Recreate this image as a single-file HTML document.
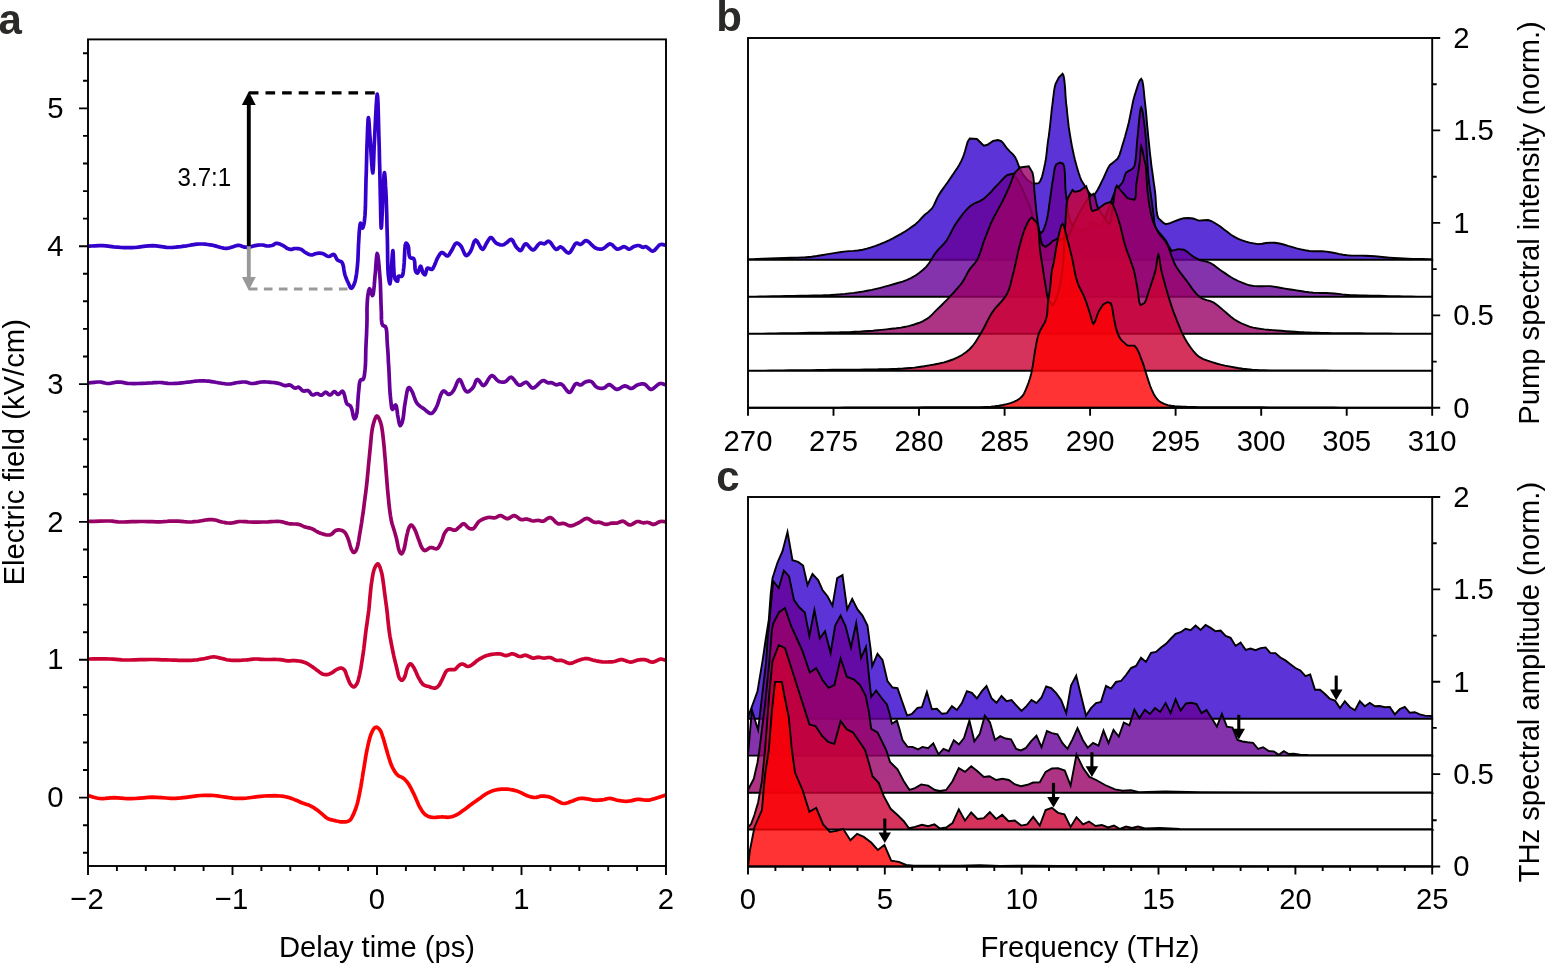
<!DOCTYPE html>
<html lang="en"><head><meta charset="utf-8"><title>Figure</title>
<style>html,body{margin:0;padding:0;background:#fff}svg{display:block}text{font-family:'Liberation Sans', Arial, Helvetica, sans-serif;fill:#000}</style></head><body>
<svg width="1545" height="964" viewBox="0 0 1545 964">
<rect width="1545" height="964" fill="#fff"/>
<g id="panel-a">
<polyline points="88.1,246.2 89.1,246.2 91.7,246 95.2,245.8 99,245.6 102.5,245.6 106.1,245.8 110,246.3 113.8,246.8 117.6,247.2 121.2,247.5 124.1,247.6 126.8,247.7 129.5,247.7 132.2,247.6 135,247.5 138.4,247.2 141.9,246.7 145.4,246.2 149,245.8 152.5,245.6 156,245.8 159.6,246.3 163.2,246.8 166.6,247.3 170,247.5 172.8,247.4 175.6,247.2 178.2,246.9 181,246.6 183.8,246.2 186.9,245.8 190.3,245.2 193.6,244.7 196.9,244.2 200,244 202.6,244 205.1,244.2 207.6,244.5 210,244.8 212.5,245.2 215.3,245.9 218.1,246.7 220.9,247.5 223.6,248.1 226,248.4 227.5,248.3 228.8,248 230,247.7 231.2,247.3 232.5,246.9 233.8,246.5 235,246.1 236.3,245.7 237.5,245.4 238.8,245.3 239.8,245.5 240.8,245.8 241.8,246.2 242.8,246.6 243.8,246.9 244.7,247.1 245.7,247.2 246.7,247.3 247.7,247.3 248.8,247.3 250,247 251.2,246.7 252.4,246.3 253.7,245.9 255,245.6 256.5,245.4 258,245.2 259.6,245 261.1,245 262.5,245 263.6,245.1 264.6,245.4 265.5,245.7 266.5,245.9 267.5,246 268.5,246 269.5,245.9 270.6,245.7 271.6,245.5 272.5,245.2 273.3,244.9 274,244.4 274.7,243.9 275.4,243.5 276.2,243.3 277.4,243.4 278.7,243.7 280,244.1 281.3,244.7 282.5,245.2 283.6,245.9 284.6,246.6 285.6,247.3 286.5,248 287.5,248.5 288.3,248.8 289,249.1 289.8,249.2 290.5,249.4 291.2,249.4 292,249.3 292.7,249.1 293.4,248.8 294.2,248.6 295,248.5 296.2,248.5 297.5,248.6 298.8,248.7 300.1,249 301.2,249.4 302.1,249.9 302.8,250.4 303.5,251.1 304.2,251.7 305,252.2 306.1,252.9 307.4,253.6 308.7,254.3 310,254.8 311.2,255 312.3,254.9 313.2,254.6 314.2,254.2 315.2,253.8 316.2,253.5 317.5,253.3 318.7,253.2 320,253.2 321.3,253.3 322.5,253.5 323.8,254 325.1,254.8 326.3,255.6 327.5,256.2 328.8,256.5 329.8,256.3 330.9,255.7 331.9,255 332.9,254.5 333.8,254.4 334.6,255 335.3,256.2 336,257.6 336.7,259 337.5,260 338.3,260.5 339.3,260.9 340.2,261.2 341.1,261.6 341.9,262.2 342.8,264.1 343.5,266.7 343.9,269.6 344.4,272.5 345,275 345.6,276.7 346.2,278.2 346.8,279.7 347.4,281.1 348.1,282.5 348.7,283.9 349.3,285.4 350,286.8 350.6,287.9 351.2,288.3 351.9,288 352.5,287.3 353.2,286.2 353.8,284.9 354.4,283.5 355.3,280.7 356,277.2 356.6,273.2 357.1,269.1 357.5,265 357.9,260.2 358.1,255 358.3,249.8 358.5,244.7 358.8,240 359,235.9 359.3,231.4 359.7,227.3 360.1,224.3 360.6,223.1 360.9,223.6 361.3,224.8 361.7,226.3 362.1,227.6 362.5,228.1 362.9,227.7 363.3,226.6 363.7,225.1 364.1,223.2 364.4,221.2 365,215.2 365.4,207.2 365.6,198.1 365.8,188.8 366,180 366.3,171.8 366.5,163.4 366.7,155.1 366.9,147.3 367.2,140 367.4,134.4 367.6,128.4 367.9,123 368.1,119 368.4,117.5 368.7,119 369.1,123.1 369.4,128.5 369.8,134.5 370.2,140 370.7,147.3 371.2,155.9 371.8,164.3 372.3,170.5 372.8,173 373.1,170.7 373.5,164.8 373.8,156.8 374.1,148 374.5,140 375,129.8 375.6,117.7 376.2,106.1 376.8,97.4 377.2,94 377.7,97.3 378.1,105.7 378.4,117 378.7,129.2 379,140 379.3,150 379.5,160.2 379.8,170.4 380,180.4 380.2,190 380.4,199.2 380.6,209.3 380.8,218.6 381,225.4 381.2,228.1 381.6,225.6 381.9,219.3 382.3,211 382.6,202.3 383,195 383.3,189.5 383.6,183.5 383.8,178.1 384.1,174.1 384.4,172.5 384.7,173.6 385,176.6 385.3,180.7 385.5,185.4 385.8,190 386.2,197.9 386.5,207.1 386.8,217 387,226.9 387.3,236.2 387.5,244.7 387.6,253.3 387.7,261.7 387.9,269.1 388.3,275 388.6,277.4 388.9,279.8 389.3,281.8 389.7,283.2 390,283.8 390.6,280.3 391.2,272.1 391.8,262.3 392.4,254 392.9,250.6 393.2,253.1 393.4,259.3 393.7,267 394.1,274.2 395,278.8 395.5,279.6 396,280.3 396.6,280.9 397.1,281.2 397.5,281.2 397.8,280.7 397.9,279.6 398,278.3 398.2,277 398.6,276.2 399.1,276.1 399.8,276.2 400.6,276.4 401.3,276.4 401.9,276.2 402.6,275.3 403,273.8 403.3,271.8 403.5,269.7 403.8,267.5 404.2,262.7 404.5,256.4 404.8,250.2 405.2,245.2 406,243.1 406.4,243.2 406.8,243.5 407.3,244.1 407.7,244.8 408.1,245.6 408.6,247.6 408.8,250.3 408.9,253.2 409.3,255.8 410,257.5 410.7,257.9 411.5,258.1 412.3,258.1 413.1,258.3 413.8,258.8 414.5,260.6 414.8,263.4 414.9,266.5 415.1,269.3 415.6,271.2 415.9,271.8 416.3,272.4 416.7,272.8 417.1,273.1 417.5,273.1 418.1,272.3 418.8,270.6 419.4,268.6 420,266.9 420.6,266.2 421.1,266.8 421.6,268.3 422.1,270.1 422.5,271.8 423.1,273.1 423.5,273.6 423.9,274.1 424.2,274.5 424.6,274.7 425,274.8 425.5,274 425.9,272.5 426.3,270.7 426.8,269 427.5,268.1 428.3,268.1 429.2,268.5 430.2,269 431.1,269.4 431.9,269.4 432.7,268.8 433.3,267.8 433.9,266.5 434.5,265.2 435,264 435.5,262.8 436,261.6 436.4,260.4 436.9,259.3 437.5,258.1 438.2,256.8 439.1,255.4 439.9,254 440.9,253 441.9,252.5 443,252.8 444.1,253.7 445.3,254.8 446.5,255.7 447.5,256 448.3,255.6 449.1,254.7 449.8,253.6 450.5,252.4 451.2,251.2 452.2,249.6 453.2,247.5 454.2,245.5 455.2,243.9 456.2,243.1 457.1,243.1 458,243.4 458.9,244 459.8,244.8 460.6,245.6 461.8,247.4 462.9,249.9 464,252.6 465.1,254.7 466.2,255.6 467.1,255.4 468,254.7 468.9,253.7 469.8,252.5 470.6,251.2 471.7,249 472.6,246.2 473.5,243.3 474.5,241 475.6,240 476.9,240.9 478.3,243.2 479.8,246 481.2,248.4 482.5,249.4 483.3,249 484.1,247.9 484.8,246.6 485.5,245.1 486.2,243.8 487.1,242.3 488,240.7 489,239.2 489.9,238 490.9,237.5 491.9,237.9 492.9,239.1 494,240.6 495.1,242 496.2,243.1 497.4,243.8 498.7,244.3 500,244.8 501.3,245 502.5,245 503.4,244.8 504.3,244.3 505.2,243.7 506,243.1 506.9,242.5 507.8,241.8 508.7,240.9 509.5,240.1 510.4,239.5 511.2,239.4 512.3,240.1 513.3,241.6 514.2,243.5 515.2,245.4 516.2,246.9 517.1,247.9 518,248.9 518.9,249.8 519.7,250.4 520.6,250.6 521.6,249.8 522.5,248.2 523.5,246.2 524.5,244.5 525.6,243.8 527,244.3 528.5,245.9 530,247.8 531.6,249.4 533.1,250 534.5,249.3 535.9,247.7 537.3,245.8 538.7,244.1 540,243.1 540.9,243 541.8,243.2 542.7,243.5 543.5,243.7 544.4,243.8 545.3,243.4 546.1,242.7 547,241.9 547.8,241.4 548.8,241.2 550.2,242.2 551.7,244.2 553.3,246.5 554.8,248.5 556.2,249.4 557.1,249.2 558,248.6 558.8,247.8 559.7,247.1 560.6,246.9 562.1,247.6 563.8,249.2 565.5,251.1 567.2,252.6 568.8,253.1 570.4,252 571.9,249.6 573.4,246.9 574.8,244.4 576.2,243.1 577.1,243.1 578,243.4 578.8,243.9 579.7,244.3 580.6,244.4 581.7,243.9 582.8,242.9 583.9,241.8 585,240.9 586.2,240.6 588,241.3 589.9,242.9 591.8,244.9 593.7,246.8 595.6,248.1 597,248.6 598.4,249 599.8,249.1 601.1,249.1 602.5,248.9 604.1,248.1 605.6,246.9 607.2,245.5 608.7,244.3 610.2,243.9 611.7,244.4 613.1,245.7 614.5,247.2 615.9,248.5 617.4,249.2 618.8,249 620.2,248.4 621.6,247.6 622.9,246.9 624.2,246.7 625.3,247 626.3,247.6 627.3,248.4 628.2,249 629.2,249.2 630.1,249 631,248.5 631.8,247.8 632.7,247.2 633.6,246.7 634.6,246.3 635.6,246 636.6,245.7 637.6,245.5 638.6,245.5 639.5,245.7 640.4,246.1 641.2,246.6 642.1,247.1 642.9,247.3 643.5,247.3 644.1,247.1 644.7,246.8 645.3,246.7 646,246.7 647.2,247.3 648.6,248.5 650,249.7 651.5,250.7 652.9,251.1 654.4,250.4 655.9,248.9 657.4,247.1 658.9,245.4 660.4,244.5 661.7,244.4 663.2,244.6 664.6,245 665.6,245.3 666,245.5" fill="none" stroke="#3300cc" stroke-width="3.7" stroke-linejoin="round" stroke-linecap="butt"/>
<polyline points="88,383 88.9,382.9 91.2,382.6 94.2,382.3 97.4,382 100,382 101.7,382.2 103.3,382.6 104.8,383 106.4,383.3 108,383.5 109.9,383.4 111.9,383 113.9,382.6 115.9,382.2 118,382 120.3,382.1 122.6,382.4 124.9,382.9 127.4,383.3 130,383.5 133.8,383.6 138,383.5 142.2,383.3 146.4,383.2 150,383 152.2,382.9 154.2,382.7 156.2,382.6 158.1,382.5 160,382.5 162,382.6 163.9,382.9 165.9,383.1 167.9,383.4 170,383.5 172.8,383.5 175.8,383.3 178.9,383.1 182,382.8 185,382.5 187.7,382.2 190.4,381.9 193.1,381.5 195.6,381.2 198,381 199.7,380.9 201.4,380.9 202.9,380.9 204.5,380.9 206,381 207.4,381.1 208.8,381.2 210.2,381.4 211.6,381.6 213,381.8 214.4,382 215.8,382.3 217.1,382.5 218.5,382.8 220,383 221.7,383.3 223.5,383.5 225.3,383.8 227.2,384 229,384 230.8,383.8 232.7,383.5 234.5,383.1 236.3,382.8 238,382.5 239.5,382.3 240.9,382.2 242.2,382 243.6,382 245,382 246.4,382.2 247.7,382.6 249.1,383 250.5,383.3 252,383.5 253.9,383.4 255.8,383.1 257.9,382.6 259.9,382.2 262,382 264.2,381.9 266.5,382 268.8,382.1 271,382.3 273,382.5 274.5,382.7 276,382.9 277.4,383.1 278.7,383.4 280,383.8 281.1,384.1 282.1,384.6 283,385 284,385.4 285,385.6 286,385.6 287,385.4 288,385.1 289,384.9 290,385 291,385.4 292,386.2 293,387 294,387.7 295,388.1 295.8,388.1 296.5,387.8 297.3,387.5 298,387.2 298.8,387.2 299.6,387.7 300.5,388.6 301.3,389.6 302.2,390.4 303.1,391 304.1,391.1 305.1,390.9 306.1,390.6 307.1,390.5 308.1,390.6 309,391.3 309.9,392.3 310.7,393.5 311.6,394.5 312.5,395 313.3,395 314.2,394.6 315.1,394.1 316,393.7 316.9,393.5 317.8,393.7 318.7,394.2 319.5,394.7 320.4,395.1 321.2,395.2 322.1,394.9 323,394.1 323.9,393.3 324.7,392.6 325.6,392.2 326.5,392.5 327.4,393.2 328.2,394.1 329.1,394.7 330,395 330.9,394.6 331.8,393.8 332.7,392.8 333.5,391.9 334.4,391.6 335.2,391.9 335.9,392.6 336.6,393.4 337.3,394.1 338.1,394.4 339,394.1 339.9,393.2 340.9,392.3 341.8,391.5 342.5,391.2 343,391.6 343.4,392.2 343.7,393.1 344.1,394 344.4,395 344.9,396.6 345.3,398.5 345.7,400.5 346.2,402.3 346.9,403.8 347.6,404.4 348.3,404.8 349.1,405.1 349.9,405.6 350.6,406.2 351.6,408.5 352.4,411.6 353,415 353.7,417.6 354.4,418.8 354.8,418.7 355.2,418.3 355.5,417.8 355.9,417.1 356.2,416.2 357,412.6 357.5,407.2 357.9,401 358.3,394.9 358.8,390 359,387.5 359.3,385.1 359.5,382.9 360,381.2 360.6,380 361,379.7 361.6,379.7 362.1,379.7 362.6,379.7 363.1,379.4 363.7,378.3 364.2,376.6 364.5,374.6 364.7,372.4 365,370 365.4,365.7 365.6,360.7 365.7,355.4 365.8,350 366,345 366.2,340.9 366.4,337 366.6,333.1 366.7,329.1 366.9,325 367,319.8 367,314.2 367,308.5 367.2,303.3 367.5,298.8 367.8,296.1 368.2,293.5 368.6,291.1 369.1,289.4 369.6,288.8 370.1,289.4 370.7,291.2 371.4,293.2 372,294.9 372.5,295.6 373.2,294.2 373.7,290.6 374.2,285.9 374.6,280.8 375,276.2 375.5,271.1 375.9,265.1 376.3,259.4 376.8,255.2 377.2,253.5 377.8,255.2 378.4,259.5 379,265.4 379.5,271.7 380,277.5 380.4,283.6 380.6,290.2 380.8,296.8 381,303.1 381.2,308.8 381.4,312.6 381.4,316.4 381.5,319.9 381.8,322.9 382.5,325 383,325.6 383.7,325.9 384.4,326.1 385.1,326.3 385.6,326.9 386.3,328.9 386.7,331.7 386.9,335 387,338.5 387.2,342 387.5,346.6 387.9,351.6 388.2,356.8 388.4,362.1 388.8,367.5 389.1,373.8 389.4,380.6 389.7,387.3 390.1,393.5 390.6,398.8 390.9,401.6 391.2,404.4 391.5,406.8 391.9,408.6 392.5,409.4 393,409 393.7,407.9 394.4,406.5 395,405.4 395.6,405 396.3,406 396.8,408.5 397.2,411.6 397.6,414.8 398.1,417.5 398.5,419.5 398.9,421.6 399.3,423.6 399.8,425 400.2,425.6 400.7,425.4 401.1,424.7 401.6,423.7 402.1,422.5 402.5,421.2 403.1,418.5 403.6,415.1 404,411.3 404.4,407.4 405,403.8 405.6,400 406.3,395.8 407,391.8 407.8,388.8 408.8,387.5 409.3,387.6 410,388.2 410.6,389.1 411.3,390.2 411.9,391.2 412.9,393.3 413.7,395.7 414.7,398.4 415.7,401 416.9,403.1 418.1,404.5 419.4,405.7 420.8,406.7 422.3,407.7 423.8,408.8 425.2,409.9 426.8,411.3 428.4,412.5 429.9,413.3 431.2,413.5 432.4,413 433.4,412 434.4,410.6 435.4,409.1 436.2,407.5 437.4,405 438.4,401.9 439.4,398.8 440.3,395.9 441.2,393.8 441.7,392.9 442.2,392.2 442.7,391.5 443.2,391.1 443.8,390.9 444.6,391.2 445.6,392.1 446.7,393.1 447.7,394 448.8,394.4 449.6,394.2 450.5,393.8 451.4,393.1 452.3,392.2 453.1,391.2 454.4,389 455.7,386 456.9,382.8 458.2,380.4 459.4,379.4 460.6,380.3 461.7,382.6 462.8,385.4 463.9,388.1 465,390 465.5,390.6 466,391.1 466.4,391.5 466.9,391.8 467.5,391.9 468.5,391.6 469.6,390.9 470.8,389.9 472,388.7 473,387.5 474,385.9 474.8,383.8 475.6,381.7 476.4,380.1 477.4,379.4 478.5,380 479.7,381.5 481,383.4 482.3,385 483.6,385.6 485.2,384.5 486.8,382.1 488.4,379.2 490.1,376.7 491.8,375.6 493.1,376 494.5,377.2 495.8,378.8 497.2,380.3 498.6,381.2 499.8,381.7 501.1,382 502.4,382.2 503.7,382.1 504.9,381.9 506.2,381.2 507.4,380 508.6,378.6 509.8,377.6 511.1,377.2 512.7,378.1 514.3,380 515.9,382.3 517.6,384.2 519.2,385.2 520.6,385.1 522,384.3 523.4,383.3 524.8,382.5 526.1,382.2 527.5,383 528.7,384.4 530,386.1 531.3,387.5 532.8,388.1 534.7,387.4 536.8,385.6 539,383.4 541.1,381.5 543,380.6 544.1,380.7 545.1,381.2 546.1,381.8 547.1,382.4 548,382.8 548.8,382.8 549.5,382.8 550.3,382.7 551,382.7 551.8,382.8 552.6,383.1 553.5,383.5 554.3,384 555.2,384.5 556.1,384.8 557.1,384.7 558,384.4 559,384.1 560.1,383.9 561.1,384 562.8,385.2 564.5,387.4 566.2,389.8 567.9,391.8 569.5,392.5 570.9,391.6 572.2,389.5 573.5,386.9 574.8,384.7 576.1,383.5 577,383.5 577.9,383.9 578.7,384.4 579.6,384.9 580.5,385 581.5,384.7 582.5,384 583.4,383.2 584.5,382.4 585.5,381.9 586.6,381.6 587.7,381.3 588.9,381.2 590,381.2 591.1,381.5 592.3,382.3 593.4,383.6 594.4,385 595.5,386.3 596.8,387.2 598,387.8 599.4,388.1 600.9,388.3 602.3,388.3 603.6,388.1 604.8,387.6 605.9,386.7 607,385.7 608.1,384.9 609.2,384.6 610.7,385.1 612.1,386.2 613.7,387.6 615.2,388.8 616.8,389.4 618.4,389.1 620,388.3 621.7,387.2 623.3,386.3 624.9,385.9 626.3,386.2 627.6,386.8 628.9,387.6 630.2,388.3 631.5,388.5 632.7,388.1 633.9,387.4 635,386.5 636.2,385.6 637.4,385 638.7,384.6 640.1,384.2 641.5,383.9 642.9,383.8 644.2,384 645.7,384.8 647,386.2 648.3,387.6 649.7,388.9 651.1,389.4 652.8,388.9 654.6,387.5 656.4,385.8 658.2,384.3 659.9,383.5 661.4,383.5 663,383.9 664.5,384.4 665.6,384.8 666,385" fill="none" stroke="#660099" stroke-width="3.7" stroke-linejoin="round" stroke-linecap="butt"/>
<polyline points="88,521.5 89.7,521.4 94,521.3 99.7,521.1 105.4,521 110,521 112.2,521.1 114.1,521.4 115.9,521.6 117.8,521.9 120,522 123.6,522 127.5,521.9 131.7,521.7 135.9,521.6 140,521.5 144,521.5 148.1,521.6 152.2,521.7 156.2,521.8 160,521.8 163.1,521.7 166.2,521.5 169.1,521.2 172,521.1 175,521 178,521.1 181.1,521.4 184.2,521.7 187.2,521.9 190,522 192.1,521.9 194.2,521.7 196.1,521.5 198.1,521.3 200,521 201.8,520.7 203.6,520.4 205.4,520 207.1,519.8 208.8,519.6 210.1,519.6 211.3,519.6 212.5,519.7 213.8,519.8 215,520 216.4,520.3 217.8,520.7 219.1,521.2 220.6,521.6 222,522 223.5,522.3 225.1,522.6 226.7,522.9 228.3,523 230,523.1 231.9,522.9 233.9,522.6 235.9,522.1 238,521.7 240,521.5 242,521.5 243.9,521.6 245.9,521.7 247.9,521.9 250,522 252.8,522.1 255.8,522.1 258.9,522.1 262,522 265,522 268.1,521.9 271.2,521.7 274.3,521.5 277.2,521.4 280,521.5 282,521.8 283.9,522.3 285.7,522.9 287.6,523.4 289.4,523.8 291.3,523.9 293.2,524 295.2,524 297,524.1 298.8,524.4 300.1,524.8 301.3,525.3 302.5,525.9 303.7,526.4 305,526.9 306.4,527.3 307.7,527.6 309.1,527.9 310.5,528.3 311.9,528.8 313.3,529.4 314.6,530.2 315.9,531 317.3,531.8 318.8,532.5 320.5,533.2 322.3,533.8 324.2,534.4 326,534.8 327.5,535 328.3,535 329.1,535 329.8,534.9 330.5,534.7 331.2,534.4 332.1,533.8 333,533 333.8,532 334.7,531.2 335.6,530.6 336.4,530.3 337.3,530.1 338.2,529.9 339.1,529.9 340,530 340.9,530.2 341.8,530.4 342.7,530.8 343.6,531.3 344.4,531.9 345.3,532.9 346.1,534.2 346.8,535.7 347.5,537.2 348.1,538.8 348.8,540.7 349.4,542.8 350,545 350.6,547 351.2,548.8 351.7,549.8 352.2,550.7 352.7,551.6 353.2,552.2 353.8,552.5 354.2,552.4 354.8,552 355.3,551.5 355.8,550.8 356.2,550 357.2,547.6 358,544.3 358.7,540.5 359.3,536.5 360,532.5 360.8,527.8 361.6,522.8 362.3,517.7 363.1,512.6 363.8,507.5 364.4,502.4 365.1,497.1 365.8,491.9 366.4,487 366.9,482.5 367.2,479.8 367.4,477.3 367.6,475 367.9,472.6 368.1,470 368.4,466.3 368.8,462.4 369.2,458.4 369.6,454.2 370,450 370.5,445 371,439.6 371.5,434.2 372.2,429.2 373.1,425 373.8,422.6 374.5,420.2 375.3,418.1 376.1,416.6 376.9,416 377.6,416.4 378.4,417.4 379.2,418.9 379.9,420.7 380.6,422.5 381.5,425.9 382.2,430 382.8,434.5 383.3,439.1 383.8,443.8 384.3,448.8 384.7,454.1 385.2,459.4 385.6,464.7 386,470 386.4,475 386.8,480 387.2,485 387.6,490 388.1,495 388.6,500.1 389.1,505.2 389.7,510.3 390.4,515.3 391.2,520 392.1,523.8 393.2,527.3 394.3,530.8 395.3,534.2 396.2,537.5 396.9,540.5 397.5,543.7 398.1,546.7 398.7,549.3 399.4,551.2 399.8,552 400.2,552.7 400.7,553.3 401.1,553.6 401.5,553.8 402,553.5 402.4,552.9 402.9,552.1 403.3,551.1 403.8,550 404.5,547.6 405.1,544.5 405.7,541.2 406.3,537.9 406.9,535 407.4,533.1 407.8,531.3 408.3,529.6 408.8,528.1 409.4,526.9 409.7,526.3 410.1,525.8 410.5,525.4 410.8,525.1 411.2,525 411.8,525.2 412.5,525.8 413.1,526.7 413.8,527.7 414.4,528.8 415.3,530.6 416.2,532.8 417.1,535.3 417.9,537.7 418.8,540 419.5,541.9 420.2,543.9 420.9,545.8 421.7,547.5 422.5,548.8 423,549.3 423.4,549.8 423.9,550.2 424.4,550.5 425,550.6 426,550.3 427,549.6 428.2,548.8 429.4,548 430.6,547.5 431.9,547.6 433.2,548 434.5,548.5 435.8,548.8 436.9,548.8 437.8,548.2 438.6,547.3 439.3,546.2 439.9,545 440.6,543.8 441.5,541.7 442.4,539.3 443.2,536.8 444,534.4 445,532.5 445.7,531.5 446.4,530.6 447.1,529.8 447.9,529.1 448.8,528.8 449.9,528.8 451.2,529.2 452.5,529.7 453.8,530.2 455,530.2 456,529.9 456.9,529.2 457.7,528.4 458.5,527.6 459.4,526.9 460.3,526.2 461.1,525.3 462,524.5 462.9,523.9 463.8,523.8 464.7,524.2 465.7,525.1 466.7,526.2 467.7,527.3 468.8,528.1 469.6,528.5 470.4,528.8 471.3,528.9 472.2,528.9 473,528.8 474.2,527.8 475.4,526.3 476.6,524.5 477.8,522.7 479.2,521.2 480.8,520.2 482.6,519.3 484.4,518.5 486.3,517.9 488,517.5 489.4,517.4 490.8,517.5 492.2,517.7 493.6,517.8 494.9,517.8 496.1,517.4 497.2,516.8 498.3,516.2 499.4,515.8 500.5,515.6 501.8,516 503.2,516.7 504.6,517.7 506,518.4 507.4,518.8 508.8,518.4 510.2,517.6 511.5,516.7 512.9,515.9 514.2,515.6 515.6,516 517,516.9 518.4,518 519.7,519 521.1,519.6 522.2,519.7 523.4,519.6 524.5,519.3 525.6,519.1 526.8,519.1 528,519.4 529.3,519.8 530.5,520.3 531.8,520.8 533,521 534,521 535,520.8 536,520.6 537,520.5 538,520.4 539,520.5 540,520.8 541,521.1 542,521.3 543,521.2 544.4,520.7 545.8,519.7 547.3,518.6 548.8,517.8 550.2,517.5 551.8,518.2 553.4,519.6 554.9,521.3 556.5,522.8 558,523.8 559.1,523.9 560.2,523.8 561.3,523.6 562.5,523.4 563.6,523.4 564.9,523.8 566.3,524.4 567.7,525.1 569.1,525.7 570.5,525.9 572.2,525.7 574,525.1 575.8,524.2 577.5,523.3 579.2,522.5 580.8,521.6 582.3,520.5 583.8,519.5 585.3,518.7 586.8,518.4 588.3,518.7 589.8,519.6 591.3,520.6 592.8,521.6 594.2,522.2 595.3,522.4 596.3,522.4 597.2,522.3 598.2,522.2 599.2,522.2 600.6,522.6 602,523.1 603.4,523.7 604.8,524.2 606.1,524.4 607.3,524.3 608.4,524 609.5,523.7 610.6,523.3 611.8,523.1 612.8,523 613.7,523.1 614.7,523.2 615.7,523.2 616.8,523.1 618,522.8 619.2,522.3 620.5,521.7 621.7,521.3 623,521.2 624.4,521.7 625.7,522.7 627.1,523.7 628.5,524.6 629.9,525 631.4,524.7 632.9,523.9 634.4,522.9 635.9,522 637.4,521.5 638.6,521.5 639.7,521.8 640.8,522.2 641.9,522.5 643,522.8 644,522.8 645,522.7 646,522.5 647,522.4 648,522.5 649.1,522.8 650.2,523.3 651.3,523.8 652.4,524.3 653.6,524.4 654.9,524.1 656.3,523.5 657.7,522.7 659.1,521.9 660.5,521.5 661.8,521.4 663.3,521.5 664.6,521.7 665.6,521.8 666,521.9" fill="none" stroke="#990066" stroke-width="3.7" stroke-linejoin="round" stroke-linecap="butt"/>
<polyline points="88,659 89.7,659 93.8,658.9 99.4,658.9 105.2,658.9 110,659 113.1,659.2 116,659.4 118.9,659.6 121.8,659.9 125,660 129.6,660 134.7,659.9 139.9,659.7 145.1,659.6 150,659.5 154.2,659.5 158.3,659.6 162.4,659.8 166.3,659.9 170,660 172.9,660.1 175.8,660.2 178.5,660.3 181.1,660.4 183.8,660.4 186.1,660.4 188.4,660.4 190.6,660.3 192.8,660.2 195,660 197.1,659.8 199.1,659.5 201.1,659.2 203.1,658.8 205,658.5 206.8,658.1 208.6,657.7 210.3,657.3 212,657 213.8,656.9 215.4,657 217.1,657.3 218.7,657.7 220.4,658.1 222,658.5 223.6,658.9 225.1,659.3 226.6,659.7 228.2,660 230,660.2 232.7,660.4 235.8,660.4 239,660.3 242.1,660.2 245,660 247.1,659.8 249.1,659.6 251.1,659.3 253,659.1 255,659 257,659 258.9,659.1 260.9,659.3 262.9,659.4 265,659.5 267.9,659.5 271,659.5 274.2,659.4 277.3,659.5 280,659.6 281.7,659.8 283.2,660.1 284.6,660.4 286,660.7 287.5,660.9 289,660.9 290.4,660.8 291.9,660.7 293.4,660.6 295,660.6 296.9,660.8 299,661 301.1,661.4 303.1,661.9 305,662.5 306.6,663.2 308.2,664.1 309.7,665 311.1,666 312.5,666.9 313.6,667.6 314.6,668.4 315.6,669.1 316.5,669.9 317.5,670.6 318.5,671.3 319.5,672.1 320.5,672.9 321.5,673.5 322.5,674 323.4,674.3 324.3,674.5 325.1,674.6 326,674.6 326.9,674.6 327.8,674.5 328.6,674.2 329.5,673.9 330.4,673.5 331.2,673.1 332.4,672.5 333.5,671.7 334.6,670.8 335.8,670 336.9,669.4 337.8,669 338.7,668.6 339.6,668.3 340.4,668.1 341.2,668.1 341.9,668.3 342.6,668.5 343.2,668.9 343.8,669.4 344.4,670 345.1,671.1 345.8,672.6 346.3,674.3 346.9,675.9 347.5,677.5 348.1,679 348.7,680.5 349.3,681.9 349.9,683.3 350.6,684.4 351.2,685.1 351.8,685.8 352.5,686.4 353.1,686.8 353.8,686.9 354.4,686.7 355.1,686.2 355.7,685.5 356.3,684.7 356.9,683.8 357.7,682 358.3,679.9 358.9,677.6 359.5,675.1 360,672.5 360.7,669.1 361.3,665.5 361.9,661.7 362.5,657.8 363.1,653.8 363.8,648.9 364.4,643.8 365,638.7 365.6,633.6 366.2,628.8 366.8,624.9 367.3,621.2 367.8,617.6 368.3,613.9 368.8,610 369.3,605.1 369.7,600 370.2,594.8 370.7,589.7 371.2,585 371.8,581.4 372.3,577.8 372.9,574.4 373.6,571.3 374.4,568.8 375,567.4 375.7,566 376.4,564.9 377.1,564.1 377.8,563.8 378.5,564.3 379.2,565.6 380,567.3 380.6,569.3 381.2,571.2 382.1,574.6 382.7,578.5 383.3,582.8 383.9,587.1 384.4,591.2 384.9,595 385.4,598.7 385.9,602.4 386.4,606.1 386.9,610 387.4,614.4 387.8,618.9 388.3,623.5 388.8,628.1 389.4,632.5 390,636.6 390.8,640.7 391.5,644.7 392.3,648.7 393.1,652.5 393.8,655.9 394.6,659.3 395.4,662.7 396.2,665.8 396.9,668.8 397.4,670.9 397.8,673 398.3,675 398.8,676.7 399.4,678.1 399.9,678.8 400.4,679.4 400.9,679.8 401.4,680.2 401.9,680.2 402.4,680.1 402.9,679.6 403.4,679 403.9,678.3 404.4,677.5 405.1,675.8 405.7,673.7 406.2,671.4 406.8,669.3 407.5,667.5 408,666.5 408.6,665.5 409.2,664.6 409.8,664 410.4,663.8 411,664 411.7,664.6 412.4,665.4 413.1,666.5 413.8,667.5 414.7,669.3 415.7,671.4 416.7,673.8 417.7,676.1 418.8,678.1 419.7,679.7 420.6,681.3 421.6,682.7 422.6,684 423.8,685 424.7,685.5 425.7,685.8 426.7,686.1 427.7,686.3 428.8,686.5 430,686.9 431.3,687.4 432.6,687.8 433.9,688.1 435,688.1 435.8,687.9 436.6,687.5 437.4,686.9 438.1,686.3 438.8,685.6 439.6,684.5 440.3,683.2 441,681.7 441.8,680.2 442.5,678.8 443.3,677 444.2,675.2 445,673.3 445.9,671.7 446.9,670.6 447.5,670.2 448.1,670 448.7,669.8 449.3,669.7 450,669.6 450.9,669.5 452,669.6 453,669.7 454.1,669.6 455,669.4 455.8,668.8 456.6,668 457.3,667.1 458,666.3 458.8,665.6 459.5,665.1 460.2,664.7 460.9,664.3 461.7,664.1 462.5,664 463.6,664.3 464.7,664.9 465.8,665.6 467,666.3 468.1,666.5 469.1,666.3 470.1,665.9 471.1,665.3 472,664.7 473,664 474,663.3 474.9,662.5 475.9,661.6 476.9,660.8 478,660 479.5,659 481.2,658.1 483,657.1 484.8,656.3 486.8,655.6 489.1,654.9 491.7,654.4 494.4,654 497,653.8 499.2,653.8 500.8,654 502.2,654.5 503.5,655 504.8,655.4 506.1,655.6 507.4,655.4 508.6,654.9 509.9,654.4 511.1,653.9 512.4,653.8 513.9,654.1 515.4,654.7 516.9,655.5 518.5,656.2 519.9,656.5 521.1,656.4 522.2,656.1 523.2,655.7 524.3,655.3 525.5,655.2 527,655.6 528.5,656.3 530.1,657 531.6,657.7 533,658.1 534,658.1 535,657.9 536,657.6 537,657.4 538,657.2 539.2,657.3 540.5,657.5 541.7,657.8 543,658 544.2,658.1 545.4,658 546.5,657.8 547.6,657.6 548.8,657.5 549.9,657.5 551.3,657.9 552.7,658.5 554,659.3 555.4,660 556.8,660.4 557.8,660.5 558.7,660.5 559.7,660.4 560.7,660.3 561.8,660.4 563.3,660.9 564.9,661.6 566.6,662.5 568.2,663.1 569.9,663.4 571.5,663.2 573.1,662.7 574.8,661.9 576.4,661.2 578,660.6 579.6,660.1 581.2,659.5 582.9,659 584.5,658.7 586.1,658.5 587.7,658.6 589.4,659 591,659.5 592.6,660 594.2,660.4 595.9,660.8 597.4,661.1 599,661.4 600.7,661.7 602.4,661.9 604.7,662 607.1,662 609.6,661.9 612,661.8 614.2,661.5 615.9,661.1 617.4,660.6 618.8,660.1 620.2,659.7 621.8,659.6 623.5,659.9 625.2,660.5 627,661.2 628.8,661.8 630.5,662.1 632,661.9 633.5,661.5 635,660.9 636.5,660.4 638,660 639.5,659.8 641,659.6 642.5,659.6 644,659.6 645.5,659.8 646.9,660.2 648.3,660.8 649.6,661.5 651,662 652.4,662.2 654,661.9 655.7,661.2 657.3,660.3 659,659.5 660.5,659.1 661.8,659.2 663.3,659.5 664.6,659.9 665.6,660.3 666,660.4" fill="none" stroke="#cc0033" stroke-width="3.7" stroke-linejoin="round" stroke-linecap="butt"/>
<polyline points="88.4,795.5 89.2,795.8 91.1,796.4 93.8,797.3 96.7,798 99.4,798.5 102.2,798.6 105.1,798.4 108.1,798.1 111.1,797.8 114.2,797.7 117.5,797.8 120.8,798.1 124.2,798.4 127.7,798.6 131.2,798.7 135.3,798.5 139.4,798.2 143.7,797.8 148,797.4 152.3,797.2 156.9,797.3 161.5,797.6 166.2,798 170.9,798.3 175.6,798.3 180.8,797.9 186.1,797.3 191.4,796.6 196.5,795.9 201,795.5 203.8,795.4 206.3,795.3 208.6,795.3 211.1,795.4 213.7,795.5 217.3,795.9 221.3,796.5 225.3,797.1 229.2,797.7 232.7,798.1 235,798.3 237,798.4 238.9,798.4 241,798.4 243.3,798.3 247.1,798 251.4,797.5 255.8,796.9 260.3,796.3 264.4,796 267.7,795.8 271,795.8 274.2,795.7 277.2,795.8 280,796 281.9,796.2 283.7,796.4 285.4,796.7 287.1,797.1 288.8,797.5 290.3,798 291.8,798.5 293.3,799.1 294.8,799.7 296.2,800.2 297.5,800.8 298.8,801.4 300,802 301.2,802.6 302.5,803.1 304,803.6 305.5,804.1 307,804.5 308.6,805 310,805.6 311.3,806.3 312.6,807 313.8,807.7 315,808.6 316.2,809.4 317.5,810.3 318.8,811.3 320.1,812.4 321.3,813.4 322.5,814.4 323.5,815.3 324.5,816.2 325.4,817 326.4,817.8 327.5,818.5 328.9,819.1 330.3,819.6 331.9,819.9 333.5,820.3 335,820.6 336.5,821 338,821.3 339.5,821.6 341,821.8 342.5,821.9 343.9,821.9 345.4,821.8 346.9,821.6 348.2,821.2 349.4,820.6 350.3,819.8 351.1,818.8 351.8,817.6 352.4,816.3 353.1,815 353.9,813.2 354.7,811.3 355.5,809.3 356.2,807.2 356.9,805 357.6,802.5 358.2,799.8 358.8,797.1 359.4,794.3 360,791.2 360.8,787.1 361.5,782.6 362.3,778 363,773.3 363.8,768.8 364.5,764.4 365.2,760 365.9,755.6 366.7,751.4 367.5,747.5 368.2,744.4 368.9,741.5 369.6,738.6 370.4,736 371.2,733.8 371.8,732.4 372.5,731 373.1,729.8 373.7,728.9 374.4,728.1 374.8,727.8 375.2,727.5 375.6,727.3 376.1,727.2 376.5,727.2 377.2,727.4 377.9,727.8 378.6,728.4 379.3,729.2 380,730 380.9,731.5 381.6,733.4 382.3,735.5 383,737.7 383.8,740 384.7,743.3 385.7,746.9 386.8,750.6 387.8,754.2 388.8,757.5 389.5,759.7 390.2,761.8 390.9,763.8 391.6,765.7 392.5,767.5 393.4,769.2 394.3,770.8 395.3,772.4 396.4,773.8 397.5,775 398.6,775.8 399.7,776.4 400.9,776.9 402,777.4 403.1,778.1 404.1,778.8 404.9,779.6 405.8,780.5 406.6,781.4 407.5,782.5 408.8,784.4 410,786.5 411.3,788.9 412.5,791.3 413.8,793.8 415,796.5 416.3,799.4 417.5,802.3 418.7,805.1 420,807.5 421,809.1 421.9,810.7 422.8,812.1 423.9,813.3 425,814.4 426.1,815.2 427.3,815.9 428.5,816.5 429.8,816.9 431.2,817.2 433.3,817.5 435.6,817.4 438.1,817.2 440.4,817 442.5,816.9 443.9,817 445.1,817.1 446.3,817.2 447.5,817.3 448.8,817.2 450.2,817 451.7,816.7 453.3,816.2 454.8,815.6 456.2,815 457.8,814.2 459.3,813.2 460.7,812.2 462.2,811.1 463.8,810 465.6,808.7 467.5,807.3 469.4,805.8 471.2,804.4 473,803.1 474.3,802.2 475.6,801.3 476.8,800.5 478,799.6 479.2,798.8 480.7,797.7 482.1,796.6 483.6,795.5 485.2,794.4 486.8,793.5 488.4,792.6 490.1,791.8 491.9,791.1 493.7,790.5 495.5,790 497.4,789.6 499.4,789.3 501.4,789.1 503.4,789.1 505.5,789.1 507.7,789.2 510,789.5 512.3,789.9 514.5,790.4 516.8,791 519.1,791.9 521.4,792.9 523.7,794.1 525.9,795.2 528,796 529.5,796.5 530.9,796.9 532.2,797.2 533.6,797.4 534.9,797.5 536.1,797.4 537.4,797.1 538.6,796.8 539.8,796.4 541.1,796.2 542.7,796.2 544.3,796.2 546,796.3 547.6,796.5 549.2,796.9 550.8,797.5 552.3,798.2 553.8,799 555.3,799.9 556.8,800.6 558.1,801.3 559.5,802 560.8,802.7 562.2,803.2 563.6,803.5 565.2,803.4 566.8,803 568.5,802.5 570.1,801.8 571.8,801.2 573.3,800.7 574.8,800 576.3,799.4 577.7,798.9 579.2,798.5 580.7,798.3 582.2,798.3 583.7,798.4 585.2,798.6 586.8,798.8 588.4,799 590,799.4 591.6,799.7 593.3,800.1 594.9,800.2 596.5,800.3 598.2,800.2 599.8,800.1 601.4,799.9 603,799.8 604.4,799.5 605.8,799.1 607.1,798.8 608.5,798.5 609.9,798.4 611.5,798.6 613,799 614.7,799.5 616.3,800 618,800.4 619.9,800.7 621.9,801 624,801.2 626,801.3 628,801.2 629.9,801 631.8,800.6 633.6,800.1 635.5,799.6 637.4,799.4 639.5,799.4 641.7,799.7 643.9,800 646.1,800.2 648,800.2 649.3,800.1 650.5,799.8 651.7,799.5 652.9,799.1 654.2,798.8 656.7,798 659.8,797 662.8,796.1 665.1,795.3 666,795" fill="none" stroke="#ff0000" stroke-width="3.7" stroke-linejoin="round" stroke-linecap="butt"/>
<line x1="248.8" y1="103" x2="248.8" y2="246.3" stroke="#000" stroke-width="3.9"/>
<polygon points="248.8,91.5 255.7,105 241.9,105" fill="#000"/>
<line x1="248.8" y1="246.3" x2="248.8" y2="278.5" stroke="#999" stroke-width="3.9"/>
<polygon points="248.8,290.4 255.7,277 241.9,277" fill="#999"/>
<line x1="248.9" y1="92.8" x2="376.4" y2="92.8" stroke="#000" stroke-width="3.2" stroke-dasharray="9.6 7"/>
<line x1="248.9" y1="289" x2="349" y2="289" stroke="#999" stroke-width="3.2" stroke-dasharray="8.6 6.4"/>
<text transform="translate(177.6,186.2) scale(0.965,1)" font-size="25" text-anchor="start">3.7:1</text>
<rect x="88.0" y="39.4" width="578.0" height="826.6" fill="none" stroke="#000" stroke-width="1.9"/>
<path d="M88,852.7H83M88,825.2H83M88,797.6H79M88,770H83M88,742.5H83M88,714.9H83M88,687.3H83M88,659.8H79M88,632.2H83M88,604.6H83M88,577H83M88,549.5H83M88,521.9H79M88,494.3H83M88,466.8H83M88,439.2H83M88,411.6H83M88,384.1H79M88,356.5H83M88,328.9H83M88,301.3H83M88,273.8H83M88,246.2H79M88,218.6H83M88,191.1H83M88,163.5H83M88,135.9H83M88,108.4H79M88,80.8H83M88,53.2H83M88,866V875M116.9,866V871M145.8,866V871M174.7,866V871M203.6,866V871M232.5,866V875M261.4,866V871M290.3,866V871M319.2,866V871M348.1,866V871M377,866V875M405.9,866V871M434.8,866V871M463.7,866V871M492.6,866V871M521.5,866V875M550.4,866V871M579.3,866V871M608.2,866V871M637.1,866V871M666,866V875" stroke="#000" stroke-width="1.9" fill="none"/>
<text transform="translate(63.4,807.2) scale(0.965,1)" font-size="30.3" text-anchor="end">0</text>
<text transform="translate(63.4,669.4) scale(0.965,1)" font-size="30.3" text-anchor="end">1</text>
<text transform="translate(63.4,531.5) scale(0.965,1)" font-size="30.3" text-anchor="end">2</text>
<text transform="translate(63.4,393.7) scale(0.965,1)" font-size="30.3" text-anchor="end">3</text>
<text transform="translate(63.4,255.8) scale(0.965,1)" font-size="30.3" text-anchor="end">4</text>
<text transform="translate(63.4,118) scale(0.965,1)" font-size="30.3" text-anchor="end">5</text>
<text transform="translate(87,908.8) scale(0.965,1)" font-size="30.3" text-anchor="middle">−2</text>
<text transform="translate(231.5,908.8) scale(0.965,1)" font-size="30.3" text-anchor="middle">−1</text>
<text transform="translate(377,908.8) scale(0.965,1)" font-size="30.3" text-anchor="middle">0</text>
<text transform="translate(521.5,908.8) scale(0.965,1)" font-size="30.3" text-anchor="middle">1</text>
<text transform="translate(666,908.8) scale(0.965,1)" font-size="30.3" text-anchor="middle">2</text>
<text x="279" y="957.3" font-size="30.3" textLength="196" lengthAdjust="spacingAndGlyphs">Delay time (ps)</text>
<text transform="translate(24,585.6) rotate(-90)" font-size="30.3" textLength="266.5" lengthAdjust="spacingAndGlyphs">Electric field (kV/cm)</text>
<text x="-1.5" y="34" font-size="42" font-weight="bold" style="fill:#2b2a29">a</text>
</g>
<g id="panel-b">
<polygon points="748,259.7 748,259.2 749.1,259.2 752.3,259.1 757.1,258.9 763.1,258.7 769.9,258.5 777.1,258.2 784.4,258 791.2,257.8 797.2,257.6 802,257.4 805.2,257.3 806.3,257.2 811.5,256.7 816.6,256 821.5,255.2 826.4,254.4 831,253.6 835.5,252.9 839.8,252.2 843.8,251.6 848.9,251.1 853.4,250.9 857.9,250.5 862.6,249.7 866.8,248.7 871.1,247.4 875.6,245.9 880.1,244.2 884.5,242.4 888.9,240.4 892.9,238.4 896.9,236.2 901,233.9 905,231.5 908.8,229 912.2,226.6 915.2,224.4 918.8,221.1 921.7,218 924.5,215 928.4,211.9 932,208.4 933.8,205.4 935.4,202 937,198.4 938.8,195 940.8,191.9 942.9,188.9 945.1,185.8 947.5,182.5 949.7,179.2 952.2,175.6 954.8,171.8 957.3,168 959.5,164.4 961.2,161.2 962.8,157.7 963.9,154.6 965,151.2 966.3,146.5 967.7,141.7 969.8,138.5 976.9,139 980.5,142.5 983.8,145.6 987.5,144.8 993.1,141 998.1,140 1001.2,141 1003.2,143.1 1005.3,146.1 1007.5,149 1010,151.6 1012.7,154.1 1015,156.9 1016.7,160.4 1018.1,164.1 1019.4,167.5 1022.5,173.8 1027.5,180 1033,183.8 1038.8,183.1 1040.4,180.7 1041.9,177.1 1043.1,172.6 1044.1,168 1045,163.8 1045.9,159 1046.5,154.2 1047,149.5 1047.5,145 1048.1,140.4 1048.8,136.1 1049.4,131.2 1049.9,127.2 1050.4,122.6 1050.9,117.8 1051.4,112.9 1051.9,108.2 1052.5,103.8 1053,99.4 1053.6,94.9 1054.1,90.7 1054.8,86.9 1055.6,83.8 1058.8,77.5 1062.5,73.8 1063.4,75.2 1064.1,78.4 1064.6,82.8 1065.1,88.1 1065.4,93.7 1065.8,99.1 1066.2,103.8 1066.8,108.4 1067.2,113 1067.7,117.5 1068.2,122.1 1068.7,126.7 1069.4,131.2 1070.2,136.1 1071,141 1071.9,145.9 1072.9,150.8 1073.9,155.5 1075,160 1076.2,164.4 1077.4,168.9 1078.7,173 1080,176.8 1081.2,180 1085,186.2 1087.4,190.3 1090,193.8 1093.5,196.2 1097.5,190 1099.5,186.2 1101.6,181.8 1103.8,177.5 1105.7,173.1 1107.7,168.8 1110,165 1113.8,161.9 1117.5,158.8 1119.5,154.8 1121,150.1 1122.5,145 1123.8,140.9 1125.1,136.5 1126.3,131.9 1127.6,127.2 1128.8,122.5 1129.7,118.2 1130.6,113.7 1131.5,109.1 1132.4,104.7 1133.3,100.3 1134.4,96.2 1136.1,90.7 1137.9,85 1139.7,80.5 1141.2,78.8 1142.3,80.5 1143.1,84.7 1143.8,90.5 1144.4,96.8 1145,102.5 1145.5,106.9 1146,111.5 1146.4,116.2 1146.8,120.9 1147.2,125.7 1147.7,130.4 1148.1,135 1148.6,139.9 1149.1,144.7 1149.6,149.5 1150.1,154.3 1150.7,159 1151.2,163.8 1151.8,168.4 1152.5,173 1153.1,177.6 1153.7,182.1 1154.4,186.7 1155,191.2 1155.5,196 1155.8,201.1 1156.1,206.2 1156.6,210.9 1157.3,215 1158.4,218.2 1163.8,223.1 1166,224.2 1170.1,223.2 1175,221.2 1179.4,219.5 1183.8,218.2 1188.6,218 1193.2,218.5 1198.8,220.6 1203.4,220.2 1208.2,220 1211.3,221 1214.3,222.7 1217.6,224.7 1220.7,226.8 1224,229.4 1227.5,232.1 1231,234.7 1234.5,236.9 1238.3,238.8 1242.2,240.3 1246,241.6 1249.5,242.6 1257.9,244.1 1261.9,243.8 1266.1,243 1270.1,242.6 1274.8,242.8 1279.5,243.5 1283.7,244.5 1288,245.9 1292.6,247.2 1296.7,248.3 1300.9,249.3 1305.2,250.3 1309.5,251 1313.7,251.3 1317.8,251.3 1322.1,251.3 1326.4,251.6 1330.4,252.2 1334.6,253 1338.8,253.9 1343,254.7 1347.1,255.3 1351.7,255.6 1356.3,255.6 1360.9,255.6 1365.8,255.7 1370.2,256 1375,256.3 1379.9,256.7 1384.8,257.2 1389.6,257.6 1394,257.9 1399,258.2 1403.6,258.5 1408.2,258.7 1412.8,258.9 1415.8,258.9 1422.4,259 1429,259.1 1432,259.1 1432.2,259.7" fill="rgba(51,0,204,0.8)" stroke="#000" stroke-width="1.9" stroke-linejoin="miter" stroke-miterlimit="6"/>
<polygon points="748,296.7 748,296.7 748.9,296.7 751.3,296.6 755.1,296.6 760,296.5 765.9,296.4 772.4,296.3 779.3,296.1 786.5,296 793.7,295.9 800.6,295.7 807.1,295.6 813,295.5 817.9,295.4 821.7,295.4 824.1,295.3 825,295.3 830.4,295 835.5,294.6 840.3,294.3 844.9,293.9 849.4,293.4 853.8,292.9 858.2,292.3 862.6,291.6 867.1,290.8 871.7,289.9 876.1,288.9 880.5,287.8 884.7,286.7 888.7,285.6 892.6,284.5 897.7,283 902.5,281.6 907.1,279.9 911.4,277.9 915.5,275.5 919.4,272.8 923.1,269.8 926.4,266.6 929,263.3 931.3,259.7 933.4,256.1 935.8,252.6 938.5,249.4 941.4,246.4 944.3,243.3 946.9,240 949,236.4 950.9,232.7 952.8,228.9 955,225 957.6,221.1 960.5,217.1 963.6,213 966.8,209.3 970,206.2 973.4,204 976.9,202.3 980.4,200.8 983.8,198.8 987,195.9 990.2,192.8 993.2,189.4 996.2,186.2 999.2,183.1 1002.1,179.9 1004.9,177 1007.5,175 1013.1,173.8 1017.5,180 1019.4,183.4 1021.5,187.7 1023.7,192.3 1025.7,196.8 1027.5,201 1029.4,205.8 1030.9,210.4 1032.5,215 1033.7,219 1034.9,223.2 1036.1,227.1 1037.5,230 1041.2,233 1043.1,230.9 1044.8,226.7 1046.2,222 1047.2,218.1 1048,213.8 1048.7,209.2 1049.3,204.5 1050,200 1050.6,195.7 1051.2,191.3 1051.8,186.9 1052.4,182.7 1053.1,178.8 1053.9,173.2 1054.8,168 1056.2,164.4 1060,162.5 1063.1,163.8 1064.1,166.4 1064.7,170.8 1065,176.1 1065.2,181.8 1065.3,187 1065.6,191.2 1066,194.9 1066.5,198 1066.9,201.2 1067.3,204.9 1067.6,208.8 1068.1,212.7 1068.8,216.2 1070.2,221 1072.5,225 1076,228.1 1080,230 1086,229 1088.2,226.5 1090.3,223.1 1092.5,221.2 1100,226 1102.2,223.9 1104.2,219.8 1106.1,214.8 1108,210 1109.6,206 1111.2,201.7 1112.7,197.4 1114.3,193.4 1116,190 1119.4,186.1 1122.5,182.5 1123.8,179.1 1124.8,175.5 1126.2,172.5 1132.5,168.8 1134.4,166.2 1135.1,163.3 1135.7,159 1136.2,153.9 1136.6,148.3 1137,142.7 1137.5,137.5 1138,132.7 1138.5,127.2 1139,121.5 1139.6,116.2 1140.1,111.7 1140.7,108.7 1141.2,107.5 1142,109 1142.8,112.8 1143.5,118.2 1144.3,124.2 1145,130 1145.4,133.9 1145.8,138.2 1146.2,142.9 1146.5,147.8 1146.8,152.8 1147.1,157.9 1147.4,162.9 1147.7,167.7 1148.1,172.2 1148.4,176.3 1148.8,180 1149.4,185 1150,189.3 1150.6,193.3 1151.2,197.5 1151.9,202.3 1152.5,207.1 1153.1,211.9 1153.8,216.2 1154.1,220.2 1154.5,223.9 1155.6,227.5 1157.7,231 1160.7,234.4 1163.7,237.8 1166,240.7 1168.8,246.3 1171.6,251 1178.2,249.1 1183.8,249.7 1186.9,251.6 1190.1,254.3 1193.2,256.6 1199.7,260 1203,260.9 1206.6,261.6 1210.1,262.8 1213.8,265.1 1217.5,267.9 1221.3,270.7 1224.5,272.9 1227.7,275.1 1231.1,277.2 1234.5,279.2 1238.2,281 1242.1,282.7 1245.9,284.2 1249.5,285.3 1254.3,286.1 1258.9,286.3 1262.6,286.3 1266.3,286.1 1270.1,286.1 1273.8,286.6 1277.5,287.3 1281.4,288 1285,288.6 1288.7,289.2 1292.5,289.8 1296.4,290.4 1300.6,291 1304.8,291.7 1309,292.3 1313.3,292.7 1317.5,292.9 1321.6,293 1325.9,293 1330.2,293.2 1334.2,293.5 1338.2,293.9 1342.3,294.4 1346.5,294.8 1350.8,295.1 1355.5,295.3 1360.3,295.4 1365.2,295.5 1370.2,295.6 1375.2,295.7 1379.8,295.8 1384.4,295.9 1389.2,296.1 1393.9,296.2 1398.7,296.3 1403.4,296.4 1405.5,296.4 1410.8,296.5 1417.7,296.6 1424.6,296.6 1429.9,296.7 1432,296.7 1432.2,296.7" fill="rgba(102,0,153,0.8)" stroke="#000" stroke-width="1.9" stroke-linejoin="miter" stroke-miterlimit="6"/>
<polygon points="748,333.8 748,333.8 748.7,333.8 750.7,333.8 753.8,333.7 758,333.6 763,333.6 768.7,333.5 775,333.4 781.7,333.3 788.7,333.2 795.9,333.1 803.1,332.9 810.1,332.8 816.8,332.7 823.1,332.6 828.8,332.5 833.8,332.5 838,332.4 841.1,332.3 843.1,332.3 843.8,332.3 849.4,332.1 854.5,331.8 859.4,331.6 864,331.3 868.5,331 872.8,330.7 877.1,330.3 881.4,329.9 886.4,329.4 891.4,328.8 896.2,328.3 900.9,327.6 905.3,326.8 909.5,325.8 914.2,324.5 918.6,323 922.6,321.3 926.4,319.2 929.5,316.9 932.3,314.4 934.9,311.7 937.7,308.9 941,305.7 944.3,302.4 947.6,299.1 950.8,295.7 953.8,292.5 956.7,289.2 959.5,286 962.1,282.6 964.2,279.3 966,275.9 967.7,272.5 969.6,269.4 972.1,266.3 974.7,263.5 977.1,260.1 978.7,256.6 980.2,252.7 981.6,248.4 982.9,244.1 984.4,240 985.9,236 987.5,231.9 989.1,227.9 990.7,223.9 992.5,220 994.4,216.2 996.5,212.4 998.5,208.6 1000.6,204.9 1002.5,201.2 1004.5,197.1 1006.5,192.9 1008.3,188.9 1010,185 1011.7,180.5 1013.2,176.1 1015,172.5 1020,167.5 1028.8,166.2 1032.5,172.5 1033.3,176.4 1033.8,181 1034,186.1 1034.4,191.2 1034.8,195.3 1035.2,199.5 1035.6,203.8 1036,208.1 1036.4,212.3 1036.9,216.2 1037.6,221.3 1038.4,226.2 1039.2,230.8 1040,235 1040.7,238.9 1041.4,242.4 1042.5,245 1045.6,246.9 1050,243.8 1052.5,241.2 1056.9,238.8 1061.2,240 1065,237.5 1068.8,235 1070.3,232.4 1071.9,228.9 1073.4,224.9 1075,221.2 1076.8,217.8 1078.6,214.3 1080.6,210.8 1082.5,207.5 1085,203.3 1087.6,199.3 1090,196.2 1093.5,193.8 1095,196.6 1096.1,202 1097.5,207 1099.2,210.2 1101,213.2 1103,216 1105.2,219.3 1107.5,222.5 1109.4,223.8 1110.7,221.5 1111.6,216.5 1112.2,210.5 1113,205 1113.8,199.3 1114.6,193.1 1115.5,188 1116.9,185.6 1122.5,192.5 1127.5,198.1 1134.4,200 1135.5,197.8 1135.9,194.1 1136,189.5 1136.2,185 1136.8,181.1 1137.5,176.9 1138.2,172.4 1138.9,168 1139.5,163.8 1140,160 1140.4,154.1 1140.7,148.7 1141.2,146.2 1142.2,149 1143.4,154.9 1144.4,160 1145.6,165 1146,168.2 1146.2,172.3 1146.5,176.9 1146.8,181.8 1147.1,186.7 1147.5,191.2 1148.1,196.2 1148.8,201.3 1149.5,206.2 1150.4,210.9 1151.2,215 1152.4,219.1 1153.6,222.8 1155,226.2 1156.5,229.3 1158.2,232.2 1160,235 1163.2,238.6 1166.2,242.5 1168.1,246.4 1169.7,250.8 1171.2,255 1172.5,258.3 1173.7,261.6 1175.3,265 1177.2,268.2 1179.6,271.6 1182.2,275.1 1184.9,278.6 1187.5,282 1190.4,286.1 1193.3,290.2 1196.4,293.9 1199.7,297 1203.1,298.8 1206.8,300.1 1210.5,301.2 1213.8,302.6 1217.1,304.9 1220.1,307.4 1223.2,310.1 1226.8,313.2 1230.5,316.5 1234.5,319.5 1238.1,321.6 1241.9,323.5 1245.8,325.2 1249.5,326.6 1253.2,327.6 1256.7,328.3 1260.7,328.9 1264.4,329.4 1268.6,329.8 1272.9,330.1 1277.2,330.5 1281.4,330.8 1286,331.2 1290.5,331.5 1295.1,331.8 1300.2,332.1 1304.2,332.3 1308.3,332.4 1312.6,332.6 1317.1,332.7 1321.8,332.9 1326.8,333 1332.1,333.1 1337.7,333.2 1338.5,333.2 1340.6,333.2 1344,333.2 1348.5,333.3 1353.9,333.3 1360,333.3 1366.7,333.4 1373.8,333.4 1381.1,333.5 1388.6,333.5 1395.9,333.6 1403,333.6 1409.7,333.7 1415.8,333.7 1421.2,333.7 1425.7,333.8 1429.1,333.8 1431.2,333.8 1432,333.8 1432.2,333.8" fill="rgba(153,0,102,0.8)" stroke="#000" stroke-width="1.9" stroke-linejoin="miter" stroke-miterlimit="6"/>
<polygon points="748,370.8 748,370.8 748.5,370.8 750.1,370.8 752.6,370.7 755.9,370.7 760,370.7 764.8,370.6 770.3,370.5 776.2,370.5 782.6,370.4 789.3,370.3 796.4,370.3 803.6,370.2 811,370.1 818.4,370 825.8,369.9 833,369.8 840.1,369.8 846.8,369.7 853.2,369.6 859.1,369.6 864.6,369.5 869.4,369.4 873.5,369.4 876.8,369.4 879.3,369.3 880.9,369.3 881.4,369.3 887.2,369.1 892.5,368.9 897.3,368.8 901.7,368.6 906,368.3 910.2,368 914.5,367.6 918.9,367 924,366.3 929.1,365.4 934.2,364.5 939.2,363.5 944.1,362.3 948.6,361 952.7,359.5 957.6,357.3 962,355 965.9,352.3 969.6,349.2 972.8,345.7 975.7,341.8 978.3,337.6 980.9,333.3 983.2,329.3 985.3,325.2 987.4,320.9 989.6,316.7 992.1,312.6 995,308.7 998.3,305 1001.6,301.4 1004.6,297.7 1007.1,293.8 1009,289.4 1010.4,284.9 1011.5,280.2 1012.8,275.1 1013.9,270.9 1014.9,266.3 1016,261.5 1017.1,256.6 1018.1,251.8 1019.2,247.3 1020.3,243.2 1021.6,238.4 1023,234 1024.3,230 1025.9,226.3 1027.7,222.5 1029.7,219.2 1031.7,217.6 1036.9,222.5 1038,225.8 1038.6,230.1 1039,235 1039.3,240.3 1039.6,245.4 1040,250 1040.6,254.2 1041.2,258.3 1041.9,262.3 1042.5,266.2 1043.1,270 1043.7,274.2 1044.3,278.4 1045,282.4 1045.6,286.2 1046.3,290.7 1047,295 1048.1,298.8 1052.5,305 1054.2,303.3 1055.9,299.4 1057.5,295 1058.5,291.6 1059.5,287.8 1060.4,283.6 1061.1,279.2 1061.9,274.7 1062.5,270 1063,265.9 1063.3,261.6 1063.7,257.1 1063.9,252.5 1064.1,247.8 1064.3,243.1 1064.5,238.6 1064.8,234.2 1065,230 1065.3,224.9 1065.6,219.6 1065.9,214.5 1066.2,209.8 1066.5,205.7 1066.9,202.5 1068.1,197.5 1072.5,190 1075,191.9 1080,190.6 1086.2,186.2 1088.8,193.8 1089.5,198.2 1090.2,203.7 1091.1,208.6 1092.5,211.2 1097.5,209.4 1101.2,206.6 1105,203.8 1110.6,201.9 1113,205 1115,210 1116.3,213.3 1117.6,217 1118.8,221 1120,225 1121,228.8 1122,232.9 1122.9,237 1123.9,241.1 1125,245 1126.5,249.6 1128.2,254.3 1129.9,258.7 1131.2,262.5 1133.8,270 1134.7,274.1 1135.7,278.9 1136.6,284 1137.5,288.8 1138.2,293.5 1138.7,298.6 1139.4,302.8 1140.6,305 1144.4,303.1 1146.1,300 1147.4,295.7 1148.8,291.2 1150.1,287.5 1151.4,283.5 1152.7,279.6 1153.8,276.2 1155.6,270 1156.3,265.9 1157,260.8 1157.7,256.4 1158.4,254.5 1159.1,256.2 1159.7,260.2 1160.4,265.3 1161.2,270 1162.3,274.6 1163.6,279.2 1164.9,284 1166.2,288.8 1167.4,292.8 1168.6,296.9 1169.9,301.1 1171.2,305.1 1172.5,309 1174,313.2 1175.6,317.2 1177.1,321.1 1178.8,325 1180.2,328.6 1181.7,332.1 1183.3,335.5 1185,338.8 1187.4,342.7 1189.9,346.5 1192.5,350 1194.7,352.7 1196.9,355 1199.7,357.2 1203.3,359.1 1207.6,360.7 1212.1,362.2 1216.5,363.5 1220.7,364.6 1224.9,365.6 1229.1,366.4 1233.4,367.2 1238,368 1242.8,368.7 1247.5,369.2 1252.2,369.7 1256.3,370 1260,370.2 1264.3,370.3 1270,370.4 1270.4,370.4 1271.7,370.4 1273.8,370.4 1276.6,370.4 1280,370.4 1284.1,370.4 1288.8,370.4 1293.9,370.5 1299.6,370.5 1305.6,370.5 1312,370.5 1318.7,370.5 1325.6,370.5 1332.7,370.6 1340,370.6 1347.3,370.6 1354.7,370.6 1362,370.6 1369.3,370.6 1376.4,370.7 1383.3,370.7 1390,370.7 1396.4,370.7 1402.4,370.7 1408.1,370.7 1413.2,370.8 1417.9,370.8 1422,370.8 1425.4,370.8 1428.2,370.8 1430.3,370.8 1431.6,370.8 1432,370.8 1432.2,370.8" fill="rgba(204,0,51,0.8)" stroke="#000" stroke-width="1.9" stroke-linejoin="miter" stroke-miterlimit="6"/>
<polygon points="748,407.8 748,407.8 748.3,407.8 749.2,407.8 750.7,407.8 752.8,407.8 755.3,407.8 758.4,407.8 761.9,407.8 765.9,407.8 770.3,407.7 775,407.7 780.2,407.7 785.6,407.7 791.4,407.7 797.5,407.7 803.8,407.7 810.4,407.6 817.1,407.6 824,407.6 831.1,407.6 838.3,407.6 845.6,407.5 852.9,407.5 860.3,407.5 867.7,407.5 875.1,407.5 882.4,407.5 889.7,407.4 896.9,407.4 904,407.4 910.9,407.4 917.6,407.4 924.2,407.3 930.5,407.3 936.6,407.3 942.4,407.3 947.8,407.3 953,407.3 957.7,407.3 962.1,407.2 966.1,407.2 969.6,407.2 972.7,407.2 975.2,407.2 977.3,407.2 978.8,407.2 979.7,407.2 980,407.2 986.2,406.9 990.9,406.7 994.8,406.3 998.8,405.7 1002.8,405 1006.7,404.2 1010.5,403.1 1013.8,401.9 1017,400.3 1019.8,398.5 1022.2,396.3 1024.1,393.5 1025.5,390.3 1026.9,386.9 1028.5,382.8 1029.9,378.5 1031.2,373.8 1032.1,369.6 1032.9,365.1 1033.6,360.3 1034.3,355.7 1035,351.2 1035.8,346.7 1036.6,342.2 1037.5,337.9 1038.8,333.8 1040.5,329.9 1042.6,326.3 1044.7,322.6 1046.2,318.8 1047.1,314.5 1047.5,309.9 1047.7,305.5 1048.1,301.2 1048.7,297 1049.4,293 1050,288.8 1050.5,284.1 1050.9,279.1 1051.4,274.2 1051.9,270 1053.8,262.5 1054.4,258.9 1055.1,254.7 1055.8,250.1 1056.6,245.5 1057.5,241.2 1058.6,235.9 1059.9,230.2 1061.2,225.6 1062.5,223.8 1063.7,225.5 1065,229.7 1066.3,235 1067.5,240 1068.6,244 1069.7,248.2 1070.7,252.4 1071.7,256.4 1072.5,260 1073.2,263.5 1073.8,266.7 1074.4,270 1075.2,274 1076.2,278.2 1077.5,282.5 1079.1,286.5 1081.1,290.5 1083.2,294.7 1085,298.8 1086.4,302.6 1087.7,306.5 1088.9,310.2 1090,313.8 1091.2,318 1092.3,322 1093.5,323.8 1095.1,321.3 1096.9,316 1098.8,311.2 1103.1,304.4 1107.5,302.2 1110.6,303.1 1112,306.6 1112.9,312.1 1113.8,317.5 1114.7,322.2 1115.7,326.9 1116.9,331.2 1118.8,336 1121.2,340 1127.5,345.6 1134.4,345.6 1137,348.8 1139.3,353.7 1141.2,358.8 1142.6,362.4 1143.9,366.1 1145,369.9 1146.2,373.8 1147.5,377.8 1148.8,381.9 1150.2,386 1151.7,389.7 1153.6,393.7 1155.8,397.4 1158.3,400.4 1161.1,402.4 1164.2,403.9 1167.7,405.1 1171.1,405.8 1174.8,406.2 1178.6,406.4 1182.7,406.6 1186.5,406.8 1190.2,406.9 1194.3,407 1199.1,407.1 1205.2,407.2 1205.5,407.2 1206.4,407.2 1208,407.2 1210,407.2 1212.7,407.2 1215.8,407.2 1219.4,407.2 1223.4,407.2 1227.8,407.3 1232.7,407.3 1237.9,407.3 1243.5,407.3 1249.3,407.3 1255.4,407.3 1261.8,407.3 1268.4,407.4 1275.2,407.4 1282.2,407.4 1289.3,407.4 1296.5,407.4 1303.8,407.5 1311.2,407.5 1318.6,407.5 1326,407.5 1333.4,407.5 1340.7,407.6 1347.9,407.6 1355,407.6 1362,407.6 1368.8,407.6 1375.4,407.7 1381.8,407.7 1387.9,407.7 1393.7,407.7 1399.3,407.7 1404.5,407.7 1409.4,407.7 1413.8,407.8 1417.8,407.8 1421.4,407.8 1424.5,407.8 1427.2,407.8 1429.2,407.8 1430.8,407.8 1431.7,407.8 1432,407.8 1432.2,407.8" fill="rgba(255,0,0,0.8)" stroke="#000" stroke-width="1.9" stroke-linejoin="miter" stroke-miterlimit="6"/>
<rect x="748.0" y="38.0" width="684.2" height="369.8" fill="none" stroke="#000" stroke-width="1.9"/>
<text transform="translate(748,451) scale(0.965,1)" font-size="30.3" text-anchor="middle">270</text>
<text transform="translate(833.5,451) scale(0.965,1)" font-size="30.3" text-anchor="middle">275</text>
<text transform="translate(919,451) scale(0.965,1)" font-size="30.3" text-anchor="middle">280</text>
<text transform="translate(1004.6,451) scale(0.965,1)" font-size="30.3" text-anchor="middle">285</text>
<text transform="translate(1090.1,451) scale(0.965,1)" font-size="30.3" text-anchor="middle">290</text>
<text transform="translate(1175.6,451) scale(0.965,1)" font-size="30.3" text-anchor="middle">295</text>
<text transform="translate(1261.2,451) scale(0.965,1)" font-size="30.3" text-anchor="middle">300</text>
<text transform="translate(1346.7,451) scale(0.965,1)" font-size="30.3" text-anchor="middle">305</text>
<text transform="translate(1432.2,451) scale(0.965,1)" font-size="30.3" text-anchor="middle">310</text>
<text transform="translate(1453.2,417.7) scale(0.965,1)" font-size="30.3" text-anchor="start">0</text>
<text transform="translate(1453.2,325.2) scale(0.965,1)" font-size="30.3" text-anchor="start">0.5</text>
<text transform="translate(1453.2,232.8) scale(0.965,1)" font-size="30.3" text-anchor="start">1</text>
<text transform="translate(1453.2,140.3) scale(0.965,1)" font-size="30.3" text-anchor="start">1.5</text>
<text transform="translate(1453.2,47.9) scale(0.965,1)" font-size="30.3" text-anchor="start">2</text>
<path d="M748,407.8V415.8M833.5,407.8V415.8M919,407.8V415.8M1004.6,407.8V415.8M1090.1,407.8V415.8M1175.6,407.8V415.8M1261.2,407.8V415.8M1346.7,407.8V415.8M1432.2,407.8V415.8M1432.2,407.8H1440.2M1432.2,361.6H1436.7M1432.2,315.4H1440.2M1432.2,269.1H1436.7M1432.2,222.9H1440.2M1432.2,176.7H1436.7M1432.2,130.4H1440.2M1432.2,84.2H1436.7M1432.2,38H1440.2" stroke="#000" stroke-width="1.9" fill="none"/>
<text transform="translate(1538.6,424.7) rotate(-90)" font-size="30.3" textLength="403.5" lengthAdjust="spacingAndGlyphs">Pump spectral intensity (norm.)</text>
<text x="716.2" y="30.7" font-size="42" font-weight="bold" style="fill:#2b2a29">b</text>
</g>
<g id="panel-c">
<polygon points="748,718.8 748,718 748.8,715 752.5,705 757.5,691.2 762.5,661.2 765.6,640 768.8,620 770.6,595 772.5,578.1 777.5,562.5 782.5,551.2 787.5,531.9 792.5,560.2 798.1,561.9 803.1,565.6 807.5,585 812.5,574 818.1,580 822.5,590 827.5,596.2 832.5,605.6 837.2,578.1 842.5,575 847.2,609.4 852.2,598.8 857.5,609.4 862.5,615.6 867.5,625.6 869.4,640 870.6,648.8 872.2,666.2 877.5,653.8 882.5,660 887.5,681.2 892.5,687.5 897.5,688.1 902.5,702.5 907.1,715.6 911.9,714 917.5,707.8 921.9,707.2 926.9,691.9 931.9,709.2 936.9,708.8 941.9,713.8 946.9,713.1 951.9,706.2 956.9,710 961.9,703.1 966.9,691.2 971.9,692.8 976.9,698.5 981.9,691.2 986.5,686 991.5,698.1 996.5,702.8 1001.5,696 1006.5,701.2 1011.5,700 1016.5,705.6 1021.5,711 1026.5,706.2 1031.5,700 1036.5,703.1 1041.5,697.5 1046.2,686.5 1051.2,688.1 1056.2,693.1 1061.2,700.2 1066.2,713.1 1071,685.6 1076.2,675.6 1081.2,696.2 1086,715.6 1091,708.1 1096,703.1 1101,701.9 1106,685.9 1111,688.5 1116,681.9 1121,681 1126,675 1131,668.1 1136,666 1141,657.8 1146,661.9 1151,652.8 1156,651.9 1161,647.5 1166,643.8 1171,638.5 1175.6,633.8 1180.6,632.2 1185.6,628.8 1190.6,630.2 1195.6,625.6 1200.6,630 1205.6,625 1210.6,627.9 1215.6,631.2 1220.6,630.6 1225.6,636 1230.6,637.8 1235.6,646 1240.6,642.5 1245.6,649.8 1250.6,648.5 1255.6,650.2 1260.6,648.1 1265.6,647.4 1270.4,653.1 1275.4,653.1 1280.4,657.5 1285.4,660.4 1290.4,664.2 1295.4,668 1300.4,670.4 1305.4,676.1 1310.2,674.4 1315,689.8 1320,689.8 1325,694 1330,699 1335,700.6 1340,708.1 1344.8,701.2 1350,707.2 1355,710.2 1359.8,701.2 1364.8,706.2 1369.8,702.8 1374.8,706.2 1379.8,706 1384.8,707.2 1389.8,706.9 1394.8,714.4 1399.8,709 1404.8,706.9 1409.8,712.8 1414.8,712.2 1419.8,714.4 1424.8,715.6 1432,716 1432.2,718.8" fill="rgba(51,0,204,0.8)" stroke="#000" stroke-width="1.9" stroke-linejoin="miter" stroke-miterlimit="6"/>
<polygon points="748,755.6 748,755 751.9,710 758.1,730 762.5,692.5 766.2,661.2 767.5,640 770,615 771.9,595 773.1,581.2 778.8,588.1 783.8,570.6 789,576.2 794,600 799.4,607.5 804.8,612.5 809.4,636 814.4,610 819.8,638.5 825,631.2 830.6,653.1 835.2,625.6 840.6,615.6 845.6,626.2 851,647.5 856.2,623.1 861,658.1 866,646.9 868.1,667.5 870,686.2 871.2,696.9 876.2,690.6 881.2,697.5 886.9,704.4 890,715 891.9,723.8 896.9,720.6 899.4,728.8 902.5,740 907.5,746.9 912.5,746.9 918.1,749.4 922.5,746.9 928.1,748.1 933.3,743.4 938.5,754.4 943.5,748.8 948.8,751.2 953.8,740.2 959,744.4 964,738.1 969.4,720.6 974.4,741.2 979.8,733.8 984.8,715.6 990,722.5 995,740 1000.2,736.2 1005.6,738.5 1011,739.4 1016.2,749 1021,750.4 1026,747.9 1031.2,741.2 1036.5,735.6 1041.5,747.2 1046.9,731 1051.9,733.1 1057.5,734.4 1062.5,743.1 1067.5,748.8 1072.5,739.4 1077.5,728.1 1082.8,740 1087.8,747.8 1093.1,742.8 1098.5,745.6 1103.5,730.6 1108.5,743.1 1113.5,730 1118.8,736.6 1123.8,722.5 1129.4,725.4 1134.4,709.6 1139.4,718.3 1144.8,709.8 1150,714 1155,708.1 1160.2,711.9 1165.6,703.1 1170.6,713.1 1175.6,699.4 1180.6,710.6 1186,703.5 1191.2,702.8 1196.5,704 1201.5,713.1 1206.5,710 1211.5,718.1 1216.9,726.6 1221.9,713.9 1226.9,726.7 1232.5,727.6 1237.5,740 1242.5,741.5 1247.5,742.2 1253.1,742.8 1258.1,749 1263.1,747.2 1268.8,751 1273.8,751.5 1278.8,754.8 1283.8,751.2 1288.8,754 1293.8,753.8 1300,754.8 1308,755 1432,755.2 1432.2,755.6" fill="rgba(102,0,153,0.8)" stroke="#000" stroke-width="1.9" stroke-linejoin="miter" stroke-miterlimit="6"/>
<polygon points="748,792.8 748,790 753.8,778.8 757.5,762.5 759.4,750 765,705 769.4,661.2 771.9,630 773.1,623.8 778.8,612.5 785,608.1 791.2,626.2 797.5,640 802.5,651.2 809.8,672.5 816.2,668.1 822.5,680 828.5,687.8 834.4,685 840.6,658.5 846.9,676.9 853.8,679.4 860,685 865.6,695.6 868.8,711.2 871.2,728.8 877.5,732.5 882.5,742.5 886.2,750 890,761.9 897.5,769.4 903.8,781.2 909.4,789.8 915,788.1 921.2,784.4 928.1,785.6 935,790 940,791 946.2,790 952.5,781.2 958.8,768.1 965,771.9 971.2,766.2 977.5,771.2 983.8,776.9 989.4,776.2 996.2,780 1002.5,778.8 1008.8,780 1015,784.4 1021,786.2 1027.5,784.8 1033.1,782.5 1039.8,782.2 1045.6,771.9 1051.9,768.5 1058.1,768.1 1064.8,770.6 1070.6,785.6 1076.5,754.4 1083.1,768.1 1089.4,776.9 1096.2,780 1105,785 1115,789.4 1122.5,790.6 1131.2,790.2 1138.8,792.2 1165,791.5 1200,792.3 1432,792.5 1432.2,792.8" fill="rgba(153,0,102,0.8)" stroke="#000" stroke-width="1.9" stroke-linejoin="miter" stroke-miterlimit="6"/>
<polygon points="748,829.5 748,827.5 751.2,823.8 754.4,815 758.1,802.5 761.9,781.2 765,750 769.4,692.5 772.5,661.2 778.8,645 785,648.1 791.2,667.5 800,695 809.4,724.4 815.6,726.2 821.9,735.6 828.1,741.9 834.4,743.8 840.6,721.2 846.9,729.4 853.1,732.5 860,742.5 865,750 868.8,762.5 872.5,776.2 878.8,783.1 883.8,796.2 890.6,808.8 897.5,815 903.8,821.2 908.8,828.1 915,826.9 921.9,824.8 928.1,826.2 934.4,824.4 940,828.5 946.2,827.5 952.5,823.1 958.8,809.4 965,820.6 971.2,812.5 977.5,819 983.8,818.1 989.8,812.2 996.2,819 1002.2,814.8 1008.5,821.2 1014.8,820.6 1021.2,825.6 1027.2,824.4 1033.2,816.9 1039.8,825.6 1045.6,810 1051.9,807.8 1058.1,812.8 1064.4,814.4 1070.6,826.9 1076.5,817.2 1083.1,824.4 1089,821.5 1095.6,826 1101.9,825 1108.1,827.5 1114,825.6 1120,829 1126,826.5 1132,828 1138,826.5 1145,828.5 1160,828 1180,829 1432,829.3 1432.2,829.5" fill="rgba(204,0,51,0.8)" stroke="#000" stroke-width="1.9" stroke-linejoin="miter" stroke-miterlimit="6"/>
<polygon points="748,866.5 748,866.5 750,850 754.4,827.5 761.9,810 765,775 768.8,750 771.9,711.2 775,681.9 781.9,681.9 785,698.8 788.8,717.5 791.9,750 795,772.5 802.5,790 809.4,811.9 816.2,807.8 823.1,824.4 830,831.9 837.5,830.6 843.1,828.8 850.4,840.2 857.1,833.8 863.8,836.9 871.2,842.5 877.8,850 884.4,845 891.2,860.6 898.8,861.9 906.2,865 913.8,865.6 960,865.8 980,865.2 1000,866 1033.8,865.6 1060,866 1432,866.2 1432.2,866.5" fill="rgba(255,0,0,0.8)" stroke="#000" stroke-width="1.9" stroke-linejoin="miter" stroke-miterlimit="6"/>
<rect x="748.0" y="497.0" width="684.2" height="369.5" fill="none" stroke="#000" stroke-width="1.9"/>
<text transform="translate(748,908.8) scale(0.965,1)" font-size="30.3" text-anchor="middle">0</text>
<text transform="translate(884.8,908.8) scale(0.965,1)" font-size="30.3" text-anchor="middle">5</text>
<text transform="translate(1021.7,908.8) scale(0.965,1)" font-size="30.3" text-anchor="middle">10</text>
<text transform="translate(1158.5,908.8) scale(0.965,1)" font-size="30.3" text-anchor="middle">15</text>
<text transform="translate(1295.4,908.8) scale(0.965,1)" font-size="30.3" text-anchor="middle">20</text>
<text transform="translate(1432.2,908.8) scale(0.965,1)" font-size="30.3" text-anchor="middle">25</text>
<text transform="translate(1453.2,876.4) scale(0.965,1)" font-size="30.3" text-anchor="start">0</text>
<text transform="translate(1453.2,784) scale(0.965,1)" font-size="30.3" text-anchor="start">0.5</text>
<text transform="translate(1453.2,691.6) scale(0.965,1)" font-size="30.3" text-anchor="start">1</text>
<text transform="translate(1453.2,599.3) scale(0.965,1)" font-size="30.3" text-anchor="start">1.5</text>
<text transform="translate(1453.2,506.9) scale(0.965,1)" font-size="30.3" text-anchor="start">2</text>
<path d="M748,866.5V874.5M775.4,866.5V871M802.7,866.5V871M830.1,866.5V871M857.5,866.5V871M884.8,866.5V874.5M912.2,866.5V871M939.6,866.5V871M966.9,866.5V871M994.3,866.5V871M1021.7,866.5V874.5M1049,866.5V871M1076.4,866.5V871M1103.8,866.5V871M1131.2,866.5V871M1158.5,866.5V874.5M1185.9,866.5V871M1213.3,866.5V871M1240.6,866.5V871M1268,866.5V871M1295.4,866.5V874.5M1322.7,866.5V871M1350.1,866.5V871M1377.5,866.5V871M1404.8,866.5V871M1432.2,866.5V874.5M1432.2,866.5H1440.2M1432.2,820.3H1436.7M1432.2,774.1H1440.2M1432.2,727.9H1436.7M1432.2,681.8H1440.2M1432.2,635.6H1436.7M1432.2,589.4H1440.2M1432.2,543.2H1436.7M1432.2,497H1440.2" stroke="#000" stroke-width="1.9" fill="none"/>
<path d="M884.8,818.5V833.6" stroke="#000" stroke-width="3.1" fill="none"/><polygon points="884.8,843.1 891,832.5 878.5,832.5" fill="#000"/>
<path d="M1053.5,782.9V798" stroke="#000" stroke-width="3.1" fill="none"/><polygon points="1053.5,807.5 1059.8,796.9 1047.2,796.9" fill="#000"/>
<path d="M1091.9,752.3V767.4" stroke="#000" stroke-width="3.1" fill="none"/><polygon points="1091.9,776.9 1098.2,766.3 1085.6,766.3" fill="#000"/>
<path d="M1238.8,714.8V729.9" stroke="#000" stroke-width="3.1" fill="none"/><polygon points="1238.8,739.4 1245,728.8 1232.5,728.8" fill="#000"/>
<path d="M1336.2,675.6V690.8" stroke="#000" stroke-width="3.1" fill="none"/><polygon points="1336.2,700.2 1342.5,689.6 1330,689.6" fill="#000"/>
<text transform="translate(1538.6,882.4) rotate(-90)" font-size="30.3" textLength="400.5" lengthAdjust="spacingAndGlyphs">THz spectral amplitude (norm.)</text>
<text x="980.5" y="957.4" font-size="30.3" textLength="219" lengthAdjust="spacingAndGlyphs">Frequency (THz)</text>
<text x="716.3" y="491" font-size="42" font-weight="bold" style="fill:#2b2a29">c</text>
</g>
</svg></body></html>
